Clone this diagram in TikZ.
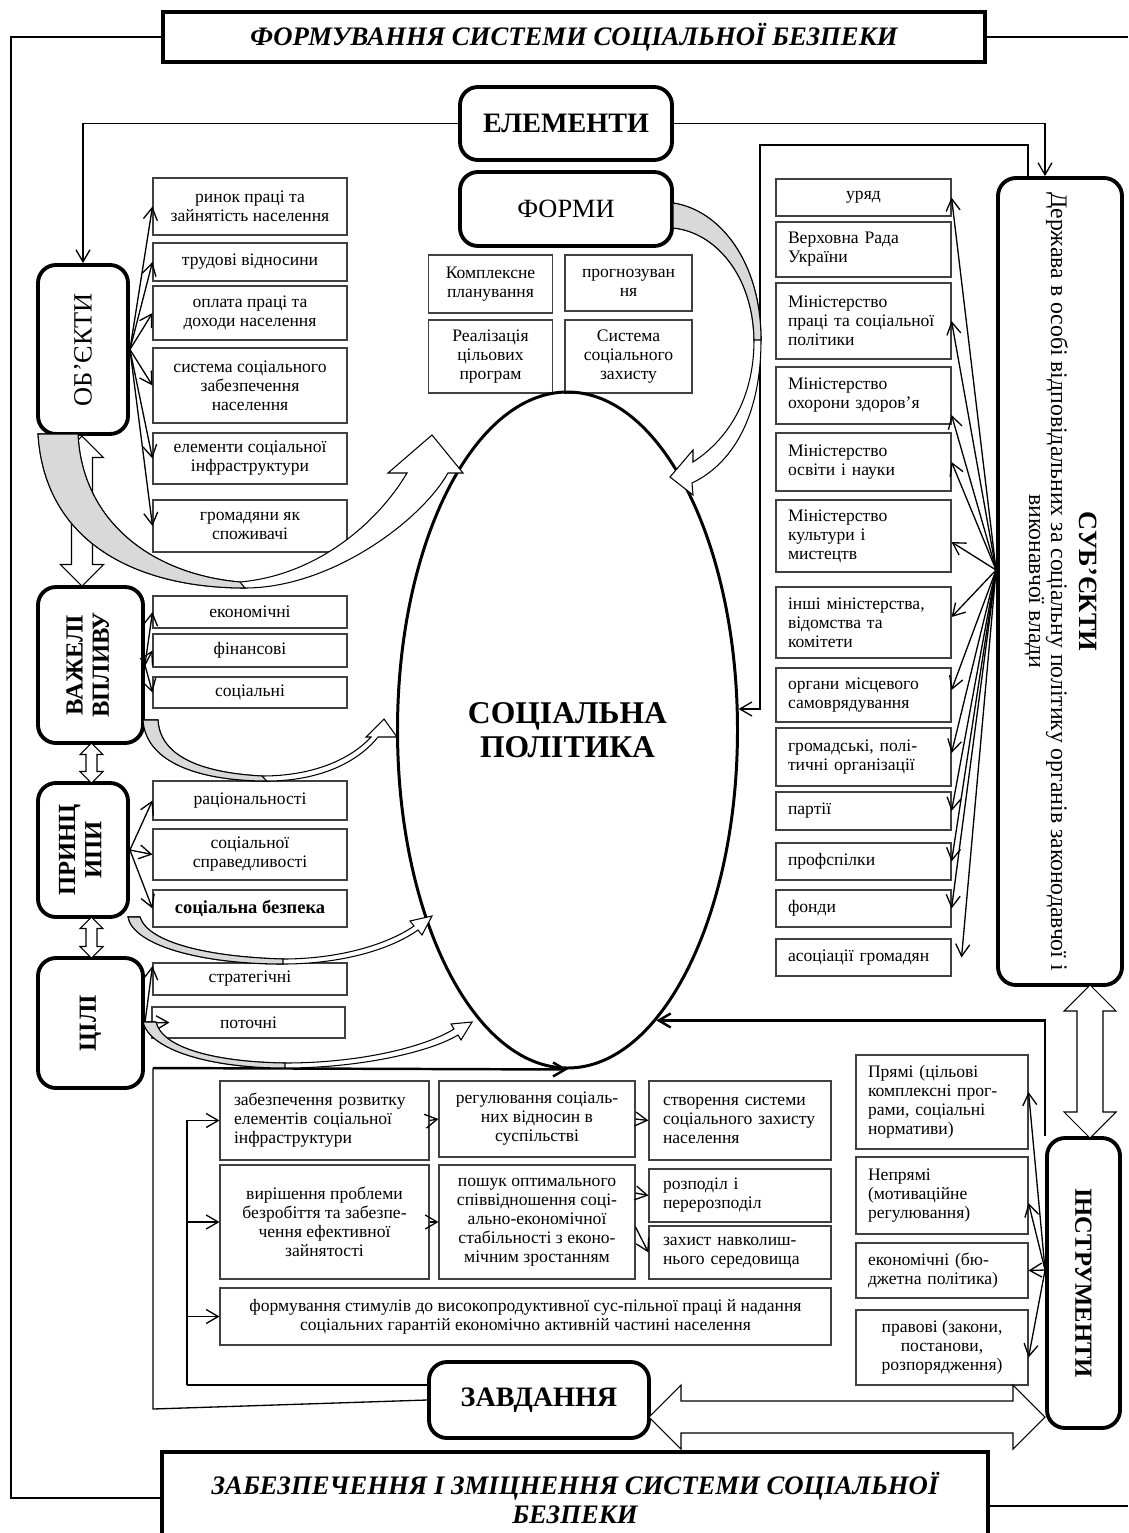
\documentclass[tikz,border=0pt]{standalone}
\usepackage{fontspec}
\setmainfont{Liberation Serif}
\usepackage{graphicx}
\usetikzlibrary{arrows.meta,shapes.geometric}
\hyphenpenalty=10000
\exhyphenpenalty=10000

\newcommand{\vblock}[5]{%
  \draw[block] (#1,#2) -- (#1+#4,#2+#4) -- (#1+#5,#2+#4) -- (#1+#5,#3-#4) -- (#1+#4,#3-#4) -- (#1,#3)
    -- (#1-#4,#3-#4) -- (#1-#5,#3-#4) -- (#1-#5,#2+#4) -- (#1-#4,#2+#4) -- cycle;}
\newcommand{\hblock}[5]{%
  \draw[block] (#2,#1) -- (#2+#4,#1-#4) -- (#2+#4,#1-#5) -- (#3-#4,#1-#5) -- (#3-#4,#1-#4) -- (#3,#1)
    -- (#3-#4,#1+#4) -- (#3-#4,#1+#5) -- (#2+#4,#1+#5) -- (#2+#4,#1+#4) -- cycle;}

\begin{document}
\begin{tikzpicture}[x=0.2mm, y=-0.2mm,
  every node/.style={inner sep=1pt},
  sz/.style 2 args={minimum width=#1*0.2mm, minimum height=#2*0.2mm},
  item/.style={draw=black!75, line width=0.6pt, font=\fontsize{10}{10.8}\selectfont, align=center},
  litem/.style={item, align=left, text width=#1*0.2mm},
  head/.style={draw, line width=2.2pt, rounded corners=3.6mm, font=\bfseries\fontsize{14}{15}\selectfont, align=center},
  title/.style={draw, line width=2.2pt, font=\bfseries\itshape\fontsize{15.2}{16.5}\selectfont, align=center},
  lnk/.style={line width=0.75pt, -{Straight Barb[length=2.4mm,width=2.8mm]}},
  thin/.style={line width=0.75pt},
  block/.style={draw, fill=white, line width=0.6pt},
  wband/.style={draw, fill=white, line width=0.6pt},
  gband/.style={draw, fill=gray!30, line width=0.6pt}]

\useasboundingbox (0,0) rectangle (1128,1533);

\node[title, sz={822}{50}] (top) at (574,37) {ФОРМУВАННЯ СИСТЕМИ СОЦІАЛЬНОЇ БЕЗПЕКИ};
\node[title, sz={826}{92}] (bot) at (575,1498) {ЗАБЕЗПЕЧЕННЯ І ЗМІЦНЕННЯ СИСТЕМИ СОЦІАЛЬНОЇ\\БЕЗПЕКИ};

\node[head, sz={212}{73}, font=\bfseries\fontsize{16}{18}\selectfont] (el) at (566,123.5) {ЕЛЕМЕНТИ};
\node[head, sz={212}{74}, font=\fontsize{15}{17}\selectfont] (fo) at (566,209) {ФОРМИ};
\node[item, sz={124}{58}] (f1) at (490.5,284) {Комплексне\\планування};
\node[item, sz={127}{56}] (f2) at (628.5,283) {прогнозуван\\ня};
\node[item, sz={124}{73}] (f3) at (490.5,356.5) {Реалізація\\цільових\\програм};
\node[item, sz={127}{73}] (f4) at (628.5,356.5) {Система\\соціального\\захисту};

\node[draw, ellipse, line width=1.7pt, inner sep=0pt, sz={340}{676}, align=center,
  font=\bfseries\fontsize{18}{19}\selectfont] (sp) at (567.5,730) {СОЦІАЛЬНА\\ПОЛІТИКА};

\node[head, sz={90}{169}, font=\fontsize{15}{17}\selectfont] (ob) at (83,349.5) {\rotatebox{90}{ОБ’ЄКТИ}};
\node[head, sz={105}{156}] (vz) at (90.5,665) {\rotatebox{90}{\begin{tabular}{@{}c@{}}ВАЖЕЛІ\\ВПЛИВУ\end{tabular}}};
\node[head, sz={90}{134}] (pr) at (83,850) {\rotatebox{90}{\begin{tabular}{@{}c@{}}ПРИНЦ\\ИПИ\end{tabular}}};
\node[head, sz={105}{130}] (ci) at (90.5,1023) {\rotatebox{90}{ЦІЛІ}};

\node[item, sz={194}{57}] (o1) at (250,206.5) {ринок праці та\\зайнятість населення};
\node[item, sz={194}{38}] (o2) at (250,262) {трудові відносини};
\node[item, sz={194}{54}] (o3) at (250,313) {оплата праці та\\доходи населення};
\node[item, sz={194}{75}] (o4) at (250,385.5) {система соціального\\забезпечення\\населення};
\node[item, sz={194}{51}] (o5) at (250,458.5) {елементи соціальної\\інфраструктури};
\node[item, sz={194}{52}] (o6) at (250,526) {громадяни як\\споживачі};

\node[item, sz={194}{32}] (v1) at (250,612) {економічні};
\node[item, sz={194}{33}] (v2) at (250,650.5) {фінансові};
\node[item, sz={194}{31}] (v3) at (250,692.5) {соціальні};

\node[item, sz={194}{39}] (p1) at (250,800.5) {раціональності};
\node[item, sz={194}{51}] (p2) at (250,854.5) {соціальної\\справедливості};
\node[item, sz={194}{37}, font=\bfseries\fontsize{10.5}{11}\selectfont] (p3) at (250,908.5) {соціальна безпека};

\node[item, sz={194}{32}] (c1) at (250,979) {стратегічні};
\node[item, sz={193}{31}] (c2) at (248.5,1022.5) {поточні};

\node[head, sz={124}{807}] (sub) at (1060,581.5) {\rotatebox{-90}{\fontsize{13.5}{12.5}\selectfont\mdseries
  \begin{tabular}{@{}c@{}}{\bfseries\fontsize{15}{17}\selectfont СУБ’ЄКТИ}\\[3pt]
  Держава в особі відповідальних за соціальну політику органів законодавчої і\\
  виконавчої влади\end{tabular}}};

\node[item, sz={175}{37}] (s1) at (863.5,197.5) {уряд};
\node[litem=151, sz={175}{55}] (s2) at (863.5,249.5) {Верховна Рада\\України};
\node[litem=151, sz={175}{76}] (s3) at (863.5,321) {Міністерство\\праці та соціальної\\політики};
\node[litem=151, sz={175}{57}] (s4) at (863.5,395.5) {Міністерство\\охорони здоров’я};
\node[litem=151, sz={175}{58}] (s5) at (863.5,462) {Міністерство\\освіти і науки};
\node[litem=151, sz={175}{72}] (s6) at (863.5,536) {Міністерство\\культури і\\мистецтв};
\node[litem=151, sz={175}{71}] (s7) at (863.5,622.5) {інші міністерства,\\відомства та\\комітети};
\node[litem=151, sz={175}{54}] (s8) at (863.5,695) {органи місцевого\\самоврядування};
\node[litem=151, sz={175}{58}] (s9) at (863.5,757) {громадські, полі-\\тичні організації};
\node[litem=151, sz={175}{38}] (s10) at (863.5,811) {партії};
\node[litem=151, sz={175}{37}] (s11) at (863.5,861.5) {профспілки};
\node[litem=151, sz={175}{37}] (s12) at (863.5,908.5) {фонди};
\node[litem=151, sz={175}{37}] (s13) at (863.5,957.5) {асоціації громадян};

\node[head, sz={73}{290}] (ins) at (1083.5,1283) {\rotatebox{-90}{ІНСТРУМЕНТИ}};
\node[litem=148, sz={172}{94}] (i1) at (942,1102) {Прямі (цільові\\комплексні прог-\\рами, соціальні\\нормативи)};
\node[litem=148, sz={172}{77}] (i2) at (942,1195.5) {Непрямі\\(мотиваційне\\регулювання)};
\node[litem=148, sz={172}{55}] (i3) at (942,1270.5) {економічні (бю-\\джетна політика)};
\node[item, sz={172}{75}] (i4) at (942,1347.5) {правові (закони,\\постанови,\\розпорядження)};

\node[litem=181, sz={209}{79}] (t1) at (324.5,1120.5) {забезпечення розвитку\\елементів соціальної\\інфраструктури};
\node[item, sz={196}{76}] (t2) at (537,1119) {регулювання соціаль-\\них відносин в\\суспільстві};
\node[litem=154, sz={182}{79}] (t3) at (740,1120.5) {створення системи\\соціального захисту\\населення};
\node[item, sz={209}{114}] (t4) at (324.5,1222) {вирішення проблеми\\безробіття та забезпе-\\чення ефективної\\зайнятості};
\node[item, sz={196}{114}] (t5) at (537,1222) {пошук оптимального\\співвідношення соці-\\ально-економічної\\стабільності з еконо-\\мічним зростанням};
\node[litem=154, sz={182}{53}] (t6) at (740,1195.5) {розподіл і\\перерозподіл};
\node[litem=154, sz={182}{53}] (t7) at (740,1252.5) {захист навколиш-\\нього середовища};
\node[item, sz={611}{57}] (t8) at (525.5,1316.5) {формування стимулів до високопродуктивної сус-пільної праці й надання\\соціальних гарантій економічно активній частині населення};
\node[head, sz={220}{76}, font=\bfseries\fontsize{16}{18}\selectfont] (zav) at (539,1400) {ЗАВДАННЯ};

\draw[thin] (top.west) -- (11,37) -- (11,1498) -- (bot.west);
\draw[thin] (top.east) -- (1128,37);
\draw[thin] (bot.east |- 0,1506) -- (1128,1506);

\draw[lnk] (el.west) -| (ob.north);
\draw[lnk] (el.east) -| ([xshift=-3mm]sub.north);
\draw[lnk] ([xshift=-6.4mm]sub.north) |- (760,145) |- (sp.7);
\draw[lnk, line width=1.4pt] (ins.north west) |- (sp.-73);
\coordinate (zc) at (153,1068);
\draw[thin] (zav.west) -- (153,1409) -- (zc);
\draw[lnk, line width=1.4pt] (zc) -- (sp.south);

\foreach \n in {1,...,6} \draw[lnk] (ob.east) -- (o\n.west);
\foreach \n in {1,2,3} \draw[lnk] (vz.east) -- (v\n.west);
\foreach \n in {1,2,3} \draw[lnk] (pr.east) -- (p\n.west);
\draw[lnk] (ci.east) -- ([yshift=2.6mm]c1.west);
\draw[lnk] (ci.east) -- ([xshift=3.6mm]c2.west);

\coordinate (so) at ([yshift=2.3mm]sub.west);
\foreach \n/\dy in {1/0mm,3/0mm,4/-3.9mm,5/0mm,6/-1.2mm,7/1.1mm,8/1mm,9/0.8mm,10/0mm,11/0mm,12/0mm}
  \draw[lnk] (so) -- ([yshift=\dy]s\n.east);
\draw[lnk] (so) -- ([xshift=2mm]s13.east);

\coordinate (io) at ([yshift=2.6mm]ins.west);
\foreach \n/\dy in {1/2mm,2/-1.5mm,3/0mm,4/-2mm} \draw[lnk] (io) -- ([yshift=\dy]i\n.east);

\coordinate (tb) at (187,1385);
\draw[thin] (zav.west |- tb) -- (tb);
\foreach \t in {t1,t4,t8} \draw[lnk] (tb) |- (\t.west);
\draw[lnk] (t1.east) -- (t2.west);
\draw[lnk] (t2.east) -- (t3.west);
\draw[lnk] (t4.east) -- (t5.west);
\draw[lnk] ([yshift=5.8mm]t5.east) -- (t6.west);
\draw[lnk] ([yshift=-1mm]t5.east) -- (t7.west);

\vblock{82}{436}{586}{21.5}{10.5}
\vblock{91.5}{743}{783}{11.5}{5.5}
\vblock{91.5}{917}{958}{11.5}{5.5}
\vblock{1090}{985}{1138}{26}{13}
\hblock{1417}{649}{1045}{32}{16}

% curved arrows into the ellipse
\draw[wband] (38,434) .. controls (45,545) and (140,588) .. (245,588) .. controls (330,588) and (420,522) .. (448,473)
  -- (463,473) -- (432,435) -- (388,473) -- (407,473) .. controls (378,522) and (318,575) .. (240,582)
  .. controls (150,574) and (82,520) .. (78,434) -- cycle;
\draw[gband] (38,434) .. controls (45,545) and (140,588) .. (245,588) -- (240,582) .. controls (150,574) and (82,520) .. (78,434) -- cycle;

\draw[wband] (143,720) .. controls (146,765) and (205,781) .. (267,781) .. controls (320,781) and (358,762) .. (378,737)
  -- (397,737) -- (384,719) -- (366,737) -- (371,737) .. controls (352,758) and (315,776) .. (262,776)
  .. controls (205,773) and (160,758) .. (158,720) -- cycle;
\draw[gband] (143,720) .. controls (146,765) and (205,781) .. (267,781) -- (262,776) .. controls (205,773) and (160,758) .. (158,720) -- cycle;

\draw[wband] (128,917) .. controls (133,945) and (200,964) .. (283,964) .. controls (340,964) and (390,950) .. (418,930)
  -- (422,935) -- (432,916) -- (410,921) -- (414,926) .. controls (388,944) and (340,959) .. (283,959)
  .. controls (210,957) and (148,943) .. (140,917) -- cycle;
\draw[gband] (128,917) .. controls (133,945) and (200,964) .. (283,964) -- (283,959) .. controls (210,957) and (148,943) .. (140,917) -- cycle;

\draw[wband] (143,1022) .. controls (150,1050) and (210,1068) .. (285,1068) .. controls (360,1068) and (430,1052) .. (458,1035)
  -- (461,1040) -- (472,1022) -- (451,1024) -- (454,1029) .. controls (425,1047) and (360,1063) .. (285,1063)
  .. controls (215,1062) and (162,1048) .. (156,1022) -- cycle;
\draw[gband] (143,1022) .. controls (150,1050) and (210,1068) .. (285,1068) -- (285,1063) .. controls (215,1062) and (162,1048) .. (156,1022) -- cycle;

\draw[wband] (673,203) .. controls (720,210) and (761,262) .. (761,340) .. controls (761,420) and (730,465) .. (692,483)
  -- (693,495) -- (670,477) -- (693,450) -- (693,462) .. controls (727,440) and (754,400) .. (754,340)
  .. controls (753,275) and (715,232) .. (673,228) -- cycle;
\draw[gband] (673,203) .. controls (720,210) and (761,262) .. (761,340) -- (754,340) .. controls (753,275) and (715,232) .. (673,228) -- cycle;
\end{tikzpicture}
\end{document}
